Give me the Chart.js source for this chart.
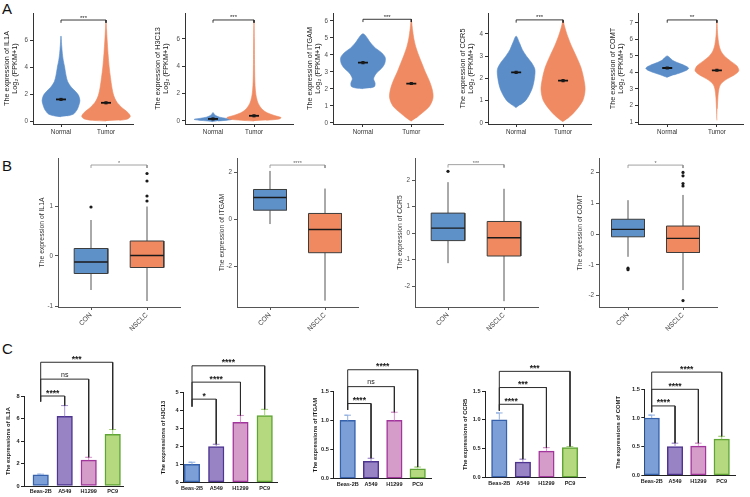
<!DOCTYPE html>
<html><head><meta charset="utf-8">
<script src="https://cdn.jsdelivr.net/npm/chart.js@4.4.1/dist/chart.umd.min.js"></script>
<style>
html,body{margin:0;padding:0;background:#fff;}
#wrap{position:relative;width:750px;height:497px;overflow:hidden;background:#fff;}
#wrap canvas{position:absolute;}
.lbl{position:absolute;font-family:"Liberation Sans",Arial,sans-serif;font-size:15px;line-height:1;color:#111;}
</style></head><body>
<div id="wrap">
<div class="lbl" style="left:2px;top:1px">A</div>
<div class="lbl" style="left:2px;top:158px">B</div>
<div class="lbl" style="left:2px;top:341px">C</div>
</div>
<script>
/* ================= DATA ================= */
/* ---- A: violin plots (TCGA, Normal vs Tumor) ---- */
const violinGenes = ['IL1A', 'H3C13', 'ITGAM', 'CCR5', 'COMT'];
const violinGroups = ['Normal', 'Tumor'];
// density profiles: [expression value, relative half-width]
const IL1A_NORMAL = [[0.32,0],[0.38,0.14],[0.5,0.27],[0.8,0.35],[1.1,0.39],[1.5,0.42],[1.9,0.39],[2.2,0.32],[2.5,0.23],[2.9,0.15],[3.4,0.11],[4.0,0.08],[4.5,0.05],[5.0,0.03],[5.6,0.015],[6.3,0]];
const IL1A_TUMOR = [[0.0,0],[0.05,0.3],[0.15,0.48],[0.35,0.54],[0.65,0.48],[1.0,0.35],[1.4,0.24],[1.9,0.17],[2.5,0.13],[3.2,0.1],[4.0,0.07],[5.0,0.045],[6.0,0.025],[6.8,0.012],[7.3,0]];
const H3C13_NORMAL = [[-0.05,0],[0.0,0.12],[0.06,0.35],[0.12,0.46],[0.2,0.3],[0.28,0.16],[0.38,0.08],[0.5,0.03],[0.62,0]];
const H3C13_TUMOR = [[0.0,0],[0.05,0.3],[0.15,0.62],[0.25,0.66],[0.4,0.5],[0.6,0.32],[0.8,0.22],[1.0,0.16],[1.3,0.1],[1.7,0.06],[2.2,0.035],[3.0,0.02],[4.5,0.012],[6.0,0.008],[7.3,0]];
const ITGAM_NORMAL = [[2.02,0],[2.06,0.15],[2.15,0.24],[2.35,0.25],[2.6,0.22],[2.9,0.27],[3.2,0.38],[3.5,0.45],[3.85,0.46],[4.15,0.38],[4.4,0.26],[4.7,0.16],[4.95,0.1],[5.15,0.05],[5.25,0]];
const ITGAM_TUMOR = [[0.1,0],[0.3,0.1],[0.6,0.23],[1.0,0.38],[1.5,0.45],[2.0,0.43],[2.5,0.37],[3.0,0.29],[3.5,0.22],[4.0,0.15],[4.5,0.09],[5.0,0.05],[5.5,0.025],[6.05,0]];
const CCR5_NORMAL = [[0.68,0],[0.8,0.08],[1.0,0.2],[1.3,0.29],[1.6,0.35],[2.0,0.39],[2.4,0.4],[2.7,0.33],[3.0,0.22],[3.3,0.13],[3.6,0.07],[3.9,0]];
const CCR5_TUMOR = [[0.05,0],[0.2,0.1],[0.5,0.25],[1.0,0.42],[1.5,0.47],[2.0,0.44],[2.5,0.38],[3.0,0.28],[3.5,0.17],[4.0,0.08],[4.35,0.03],[4.6,0]];
const COMT_NORMAL = [[3.7,0],[3.85,0.13],[4.0,0.28],[4.15,0.4],[4.27,0.43],[4.45,0.33],[4.6,0.2],[4.75,0.1],[4.9,0.05],[5.0,0]];
const COMT_TUMOR = [[1.1,0],[1.8,0.008],[2.5,0.02],[3.0,0.04],[3.3,0.08],[3.6,0.2],[3.85,0.35],[4.1,0.44],[4.4,0.4],[4.7,0.27],[5.0,0.15],[5.3,0.08],[5.7,0.04],[6.3,0.015],[7.1,0]];
const violinNormal = [IL1A_NORMAL, H3C13_NORMAL, ITGAM_NORMAL, CCR5_NORMAL, COMT_NORMAL];
const violinTumor = [IL1A_TUMOR, H3C13_TUMOR, ITGAM_TUMOR, CCR5_TUMOR, COMT_TUMOR];
const violinMeanNormal = [1.6, 0.15, 3.55, 2.27, 4.27];
const violinMeanTumor = [1.35, 0.38, 2.32, 1.9, 4.13];
const violinSig = ['***', '***', '***', '***', '**'];
const violinSigLevel = [7.48, 7.39, 6.1, 4.63, 7.18];
const violinYTicks = [[0,2,4,6],[0,2,4,6],[0,1,2,3,4,5,6],[0,1,2,3,4],[1,2,3,4,5,6,7]];
const violinYRange = [[-0.22,8.0],[-0.22,7.9],[-0.06,6.47],[-0.05,4.94],[0.88,7.6]];

/* ---- B: box plots (CON vs NSCLC) ---- */
const boxGenes = ['IL1A', 'ITGAM', 'CCR5', 'COMT'];
const boxGroups = ['CON', 'NSCLC'];
// [lower whisker, Q1, median, Q3, upper whisker]
const boxCON = [[-0.68,-0.35,-0.12,0.15,0.72],[-0.21,0.38,0.92,1.26,2.05],[-1.13,-0.28,0.19,0.755,1.92],[-0.74,-0.09,0.15,0.48,1.1]];
const boxNSCLC = [[-0.9,-0.23,0.01,0.3,0.99],[-3.47,-1.43,-0.44,0.24,1.3],[-2.56,-0.86,-0.17,0.44,1.67],[-1.82,-0.6,-0.14,0.26,1.27]];
const outCON = [[0.98],[],[2.33],[-1.11,-1.16]];
const outNSCLC = [[1.65,1.5,1.2,1.1],[],[],[2.0,1.89,1.64,1.56,-2.16]];
const boxSig = ['*', '****', '***', '*'];
const boxSigLevel = [1.82, 2.3, 2.58, 2.24];
const boxYTicks = [[-1,0,1],[-2,0,2],[-2,-1,0,1,2],[-2,-1,0,1,2]];
const boxYRange = [[-1.02,1.96],[-3.74,2.6],[-2.78,2.83],[-2.37,2.47]];

/* ---- C: bar charts (cell lines) ---- */
const cellLines = ['Beas-2B', 'A549', 'H1299', 'PC9'];
const barGenes = ['IL1A', 'H3C13', 'ITGAM', 'CCR5', 'COMT'];
const barMean = [[1.0,6.2,2.3,4.6],[1.0,2.0,3.35,3.72],[1.0,0.3,1.0,0.17],[1.0,0.27,0.46,0.52],[1.0,0.5,0.51,0.63]];
const barSD = [[0.05,0.95,0.25,0.42],[0.12,0.12,0.38,0.35],[0.09,0.05,0.14,0.03],[0.12,0.05,0.06,0.02],[0.05,0.06,0.05,0.05]];
const barSig = [['****','ns','***'],['*','****','****'],['****','ns','****'],['****','***','***'],['****','****','****']];
const barSigLevel = [[8.0,9.5,11.0],[4.64,5.59,6.5],[1.29,1.58,1.87],[1.27,1.56,1.84],[1.21,1.5,1.8]];
const barSigFoot = [7.5, 4.22, 1.18, 1.16, 1.1];
const barYTicks = [[0,2,4,6,8],[0,1,2,3,4,5],[0,0.5,1,1.5],[0,0.5,1,1.5],[0,0.5,1,1.5]];

/* ================= LAYOUT & STYLE ================= */
const FONT = '"Liberation Sans", Arial, Helvetica, sans-serif';
const layoutA = [
  {cx:0,   cw:150, axis:33,  end:133, c1:61,  c2:106, title:6.7},
  {cx:150, cw:150, axis:185, end:293, c1:213, c2:254, title:158},
  {cx:300, cw:150, axis:333, end:447, c1:364, c2:414, title:310},
  {cx:450, cw:148, axis:488, end:598, c1:518, c2:568, title:463},
  {cx:598, cw:152, axis:638, end:746, c1:668, c2:719, title:613}
];
const layoutB = [
  {cx:0,   cw:190, axis:58,  end:180, c1:91,  c2:147, title:42},
  {cx:190, cw:185, axis:237, end:358, c1:270, c2:325, title:221.7},
  {cx:375, cw:185, axis:415, end:538, c1:448, c2:504, title:400},
  {cx:560, cw:190, axis:599, end:717, c1:628, c2:683, title:580}
];
const layoutC = [
  {cx:0,   cw:150, axis:24,    end:123,   b1:40.7,  b4:112.7, top:396,   bottom:486,   title:8},
  {cx:150, cw:150, axis:183,   end:277,   b1:192,   b4:264.7, top:392.7, bottom:482.3, title:163},
  {cx:300, cw:150, axis:333.3, end:431.7, b1:347.7, b4:417.7, top:391.3, bottom:478.7, title:315},
  {cx:450, cw:150, axis:485,   end:585,   b1:499.3, b4:570,   top:391,   bottom:477.7, title:465.7},
  {cx:600, cw:150, axis:644.3, end:735,   b1:651.7, b4:721.7, top:389.3, bottom:475.3, title:618}
];
const COL = {
  normal:'#5b8dc9', tumor:'#ef8a62',
  con:'#5f91c9', nsclc:'#f0895f',
  barFill:['#7b9fd6','#9884c5','#d59bc9','#b5d97e'],
  barEdge:['#3561ad','#4e3491','#a2369c','#5fa434'],
  err:['#90afe0','#a490cf','#d88fcd','#a2d177']
};

/* ================= HELPERS ================= */
function makeCtx(l, t, w, h) {
  const c = document.createElement('canvas');
  c.width = w; c.height = h;
  c.style.left = l + 'px'; c.style.top = t + 'px';
  c.style.width = w + 'px'; c.style.height = h + 'px';
  document.getElementById('wrap').appendChild(c);
  return c.getContext('2d');
}
function yAxis(o) {
  return {
    type:'linear', min:o.min, max:o.max,
    afterBuildTicks: s => { s.ticks = o.ticks.map(v => ({value:v})); },
    afterFit: s => { s.width = o.width; },
    grid:{display:true, drawOnChartArea:false, drawTicks:true, tickLength:3, color:o.line, lineWidth:1},
    border:{display:true, color:o.line, width:1},
    ticks:{font:o.tickFont, color:o.tickColor, padding:o.tickPad, autoSkip:false, callback:o.fmt},
    title:{display:true, text:o.title, font:o.titleFont, color:o.titleColor, padding:{top:o.titlePad, bottom:0}}
  };
}
function xAxis(o) {
  return {
    type:'linear', min:o.min, max:o.max, offset:false,
    afterBuildTicks: s => { s.ticks = o.labels.map((_, i) => ({value:i + 1})); },
    afterFit: s => { s.height = o.height; },
    grid:{display:true, offset:false, drawOnChartArea:false, drawTicks:o.tickLen > 0, tickLength:o.tickLen, color:o.line},
    border:{display:true, color:o.line, width:1},
    ticks:{font:o.tickFont, color:o.tickColor, padding:o.tickPad, autoSkip:false,
      maxRotation:o.rot, minRotation:o.rot, callback: v => o.labels[Math.round(v) - 1] || ''}
  };
}
function opts(padding, scales) {
  return {responsive:false, animation:false, devicePixelRatio:1, events:[],
    layout:{padding}, plugins:{legend:{display:false}, tooltip:{enabled:false}}, scales};
}
function lineDs(points, color, width, extra) {
  return Object.assign({type:'line', data:points, borderColor:color, borderWidth:width,
    pointRadius:0, fill:false, tension:0, clip:false}, extra || {});
}
function shapeDs(points, fillColor, edgeColor, edgeWidth, tension) {
  return {type:'line', data:points, backgroundColor:fillColor, borderColor:edgeColor,
    borderWidth:edgeWidth, pointRadius:0, fill:'shape', tension:tension};
}
function violinPts(center, profile) {
  const left = profile.map(([y, w]) => ({x:center - w, y}));
  const right = profile.slice(1, -1).reverse().map(([y, w]) => ({x:center + w, y}));
  return left.concat(right);
}
function sigPlugin(items) {
  return {id:'sigText', afterDatasetsDraw(chart) {
    const ctx = chart.ctx, x = chart.scales.x, y = chart.scales.y;
    ctx.save(); ctx.textAlign = 'center'; ctx.textBaseline = 'alphabetic';
    items.forEach(it => {
      ctx.font = it.font; ctx.fillStyle = it.color;
      ctx.fillText(it.text, x.getPixelForValue(it.x), y.getPixelForValue(it.y) - it.gap);
    });
    ctx.restore();
  }};
}

/* ================= PANEL A ================= */
violinGenes.forEach((gene, i) => {
  const L = layoutA[i];
  const s = L.c2 - L.c1;
  const xmin = 1 - (L.c1 - L.axis) / s, xmax = xmin + (L.end - L.axis) / s;
  const [ymin, ymax] = violinYRange[i];
  const leg = (ymax - ymin) * 0.025;
  const lvl = violinSigLevel[i];
  const tFont = {family:FONT, size:7.3, lineHeight:1.12};
  const means = [{x:1, y:violinMeanNormal[i]}, {x:2, y:violinMeanTumor[i]}];
  // first dataset is drawn on top
  const datasets = [
    {type:'scatter', data:means, pointStyle:'rect', pointRadius:2.2, pointBorderWidth:0, pointBackgroundColor:'#1a1a1a'},
    {type:'scatter', data:means, pointStyle:'line', pointRadius:5, pointBorderWidth:1.8, pointBorderColor:'#111'},
    lineDs([{x:1, y:lvl - leg}, {x:1, y:lvl}, {x:2, y:lvl}, {x:2, y:lvl - leg}], '#222', 0.9),
    shapeDs(violinPts(2, violinTumor[i]), COL.tumor, COL.tumor, 0.6, 0.3),
    shapeDs(violinPts(1, violinNormal[i]), COL.normal, COL.normal, 0.6, 0.3)
  ];
  const ctx = makeCtx(L.cx, 0, L.cw, 140);
  new Chart(ctx, {
    type:'scatter', data:{datasets},
    options:opts({left:0, top:13, right:L.cx + L.cw - L.end, bottom:0}, {
      x:xAxis({min:xmin, max:xmax, labels:violinGroups, height:16, line:'#333', tickLen:3,
        tickFont:{family:FONT, size:6.3}, tickColor:'#333', tickPad:1, rot:0}),
      y:yAxis({min:ymin, max:ymax, ticks:violinYTicks[i], width:L.axis - L.cx, line:'#333',
        tickFont:{family:FONT, size:6.3}, tickColor:'#4d4d4d', tickPad:2, fmt:v => String(v),
        title:['The expression of ' + gene, 'Log\u2082 (FPKM+1)'], titleFont:tFont, titleColor:'#222',
        titlePad:L.title - L.cx - 7.3 * 1.12 / 2})
    }),
    plugins:[sigPlugin([{x:1.5, y:lvl, text:violinSig[i], font:'6px ' + FONT, color:'#222', gap:0.5}])]
  });
});

/* ================= PANEL B ================= */
boxGenes.forEach((gene, i) => {
  const L = layoutB[i];
  const s = L.c2 - L.c1;
  const xmin = 1 - (L.c1 - L.axis) / s, xmax = xmin + (L.end - L.axis) / s;
  const [ymin, ymax] = boxYRange[i];
  const leg = (ymax - ymin) * 0.02;
  const lvl = boxSigLevel[i];
  const h = 0.3;
  const datasets = [];
  [[1, boxCON[i], COL.con, outCON[i]], [2, boxNSCLC[i], COL.nsclc, outNSCLC[i]]].forEach(([c, b, color, outs]) => {
    const [lo, q1, med, q3, hi] = b;
    datasets.push(lineDs([{x:c, y:lo}, {x:c, y:q1}], '#555', 1, {clip:true}));
    datasets.push(lineDs([{x:c, y:q3}, {x:c, y:hi}], '#555', 1, {clip:true}));
    datasets.push(shapeDs([{x:c - h, y:q1}, {x:c - h, y:q3}, {x:c + h, y:q3}, {x:c + h, y:q1}, {x:c - h, y:q1}], color, '#3d3d3d', 1, 0));
    datasets.push(lineDs([{x:c - h, y:med}, {x:c + h, y:med}], '#1a1a1a', 1.4, {clip:true}));
    if (outs.length) datasets.push({type:'scatter', data:outs.map(v => ({x:c, y:v})), pointRadius:1.6, pointBorderWidth:0, pointBackgroundColor:'#1a1a1a'});
  });
  datasets.push(lineDs([{x:1, y:lvl - leg}, {x:1, y:lvl}, {x:2, y:lvl}, {x:2, y:lvl - leg}], '#8a8a8a', 0.8));
  // first dataset is drawn on top -> reverse so boxes/medians draw above whiskers
  datasets.reverse();
  const ctx = makeCtx(L.cx, 140, L.cw, 195);
  new Chart(ctx, {
    type:'scatter', data:{datasets},
    options:opts({left:0, top:18, right:L.cx + L.cw - L.end, bottom:0}, {
      x:xAxis({min:xmin, max:xmax, labels:boxGroups, height:28, line:'#555', tickLen:3,
        tickFont:{family:FONT, size:6.8}, tickColor:'#444', tickPad:1, rot:45}),
      y:yAxis({min:ymin, max:ymax, ticks:boxYTicks[i], width:L.axis - L.cx, line:'#555',
        tickFont:{family:FONT, size:6.3}, tickColor:'#4d4d4d', tickPad:2, fmt:v => String(v),
        title:'The expression of ' + gene, titleFont:{family:FONT, size:6.8, lineHeight:1.2}, titleColor:'#333',
        titlePad:L.title - L.cx - 6.8 * 1.2 / 2})
    }),
    plugins:[sigPlugin([{x:1.5, y:lvl, text:boxSig[i], font:'5.5px ' + FONT, color:'#666', gap:0}])]
  });
});

/* ================= PANEL C ================= */
barGenes.forEach((gene, i) => {
  const L = layoutC[i];
  const s = (L.b4 - L.b1) / 3;
  const xmin = 1 - (L.b1 - L.axis) / s, xmax = xmin + (L.end - L.axis) / s;
  const ticks = barYTicks[i];
  const ymax = ticks[ticks.length - 1];
  const cap = 0.14;
  const datasets = [];
  const labels = [];
  barSig[i].forEach((txt, k) => {
    const t = k + 2;
    const lvl = barSigLevel[i][k];
    const foot = barMean[i][t - 1] + barSD[i][t - 1];
    datasets.push(lineDs([{x:1, y:barSigFoot[i]}, {x:1, y:lvl}, {x:t, y:lvl}, {x:t, y:foot}], '#2b2b2b', 1));
    const isNs = txt === 'ns';
    labels.push({x:(1 + t) / 2, y:lvl, text:txt, font:(isNs ? '7px ' : 'bold 8.5px ') + FONT, color:'#1a1a1a', gap:isNs ? 2.5 : 0.5});
  });
  barMean[i].forEach((m, j) => {
    const e = m + barSD[i][j];
    datasets.push(lineDs([{x:j + 1, y:m}, {x:j + 1, y:e}, {x:j + 1 - cap, y:e}, {x:j + 1 + cap, y:e}], COL.err[j], 1));
  });
  datasets.push({type:'bar', data:barMean[i].map((v, j) => ({x:j + 1, y:v})),
    backgroundColor:COL.barFill, borderColor:COL.barEdge, borderWidth:1.5, borderSkipped:false, barThickness:15.5});
  const ctx = makeCtx(L.cx, 345, L.cw, 152);
  new Chart(ctx, {
    type:'bar', data:{datasets},
    options:opts({left:0, top:L.top - 345, right:L.cx + L.cw - L.end, bottom:0}, {
      x:xAxis({min:xmin, max:xmax, labels:cellLines, height:497 - L.bottom, line:'#222', tickLen:0,
        tickFont:{family:FONT, size:5.5, weight:'bold'}, tickColor:'#222', tickPad:2.5, rot:0}),
      y:yAxis({min:0, max:ymax, ticks:ticks, width:L.axis - L.cx, line:'#222',
        tickFont:{family:FONT, size:5.6, weight:'bold'}, tickColor:'#222', tickPad:1.5,
        fmt: ymax < 2 ? (v => v.toFixed(1)) : (v => String(v)),
        title:'The expressions of ' + gene, titleFont:{family:FONT, size:5.9, weight:'bold', lineHeight:1.2}, titleColor:'#1a1a1a',
        titlePad:L.title - L.cx - 5.9 * 1.2 / 2})
    }),
    plugins:[sigPlugin(labels)]
  });
});
</script>
</body></html>
